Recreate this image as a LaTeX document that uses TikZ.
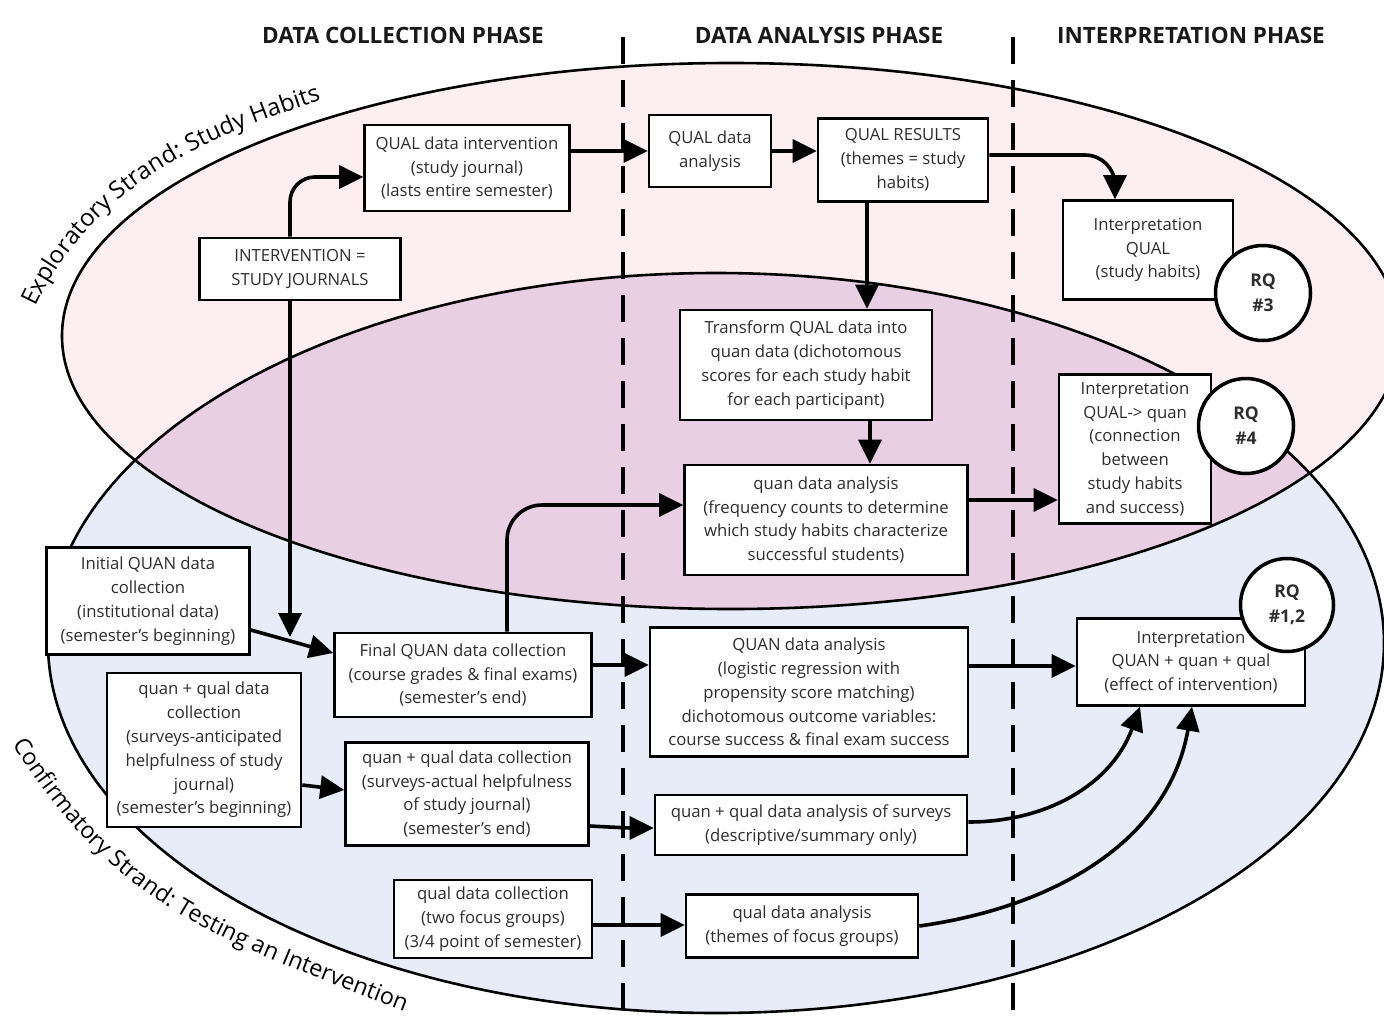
\documentclass[tikz,border=0pt]{standalone}
\usepackage{fontspec}
\setmainfont{Open Sans}
\usetikzlibrary{arrows.meta,decorations.text}
\definecolor{pinkf}{RGB}{253,239,241}
\definecolor{bluef}{RGB}{232,236,248}
\definecolor{purpf}{RGB}{232,207,227}
\definecolor{txt}{RGB}{45,45,45}
\begin{document}
\begin{tikzpicture}[x=1pt,y=1pt,
 bx/.style={draw=black, line width=2.6pt, fill=white, align=center, inner sep=0pt, text=txt, font=\fontsize{16.7}{23.8}\selectfont},
 rq/.style={circle, draw=black, line width=3.5pt, fill=white, inner sep=0pt, align=center, minimum size=95pt, text=txt, font=\bfseries\fontsize{17.5}{25}\selectfont},
 arr/.style={line width=3.6pt, -{Triangle[length=24pt,width=23pt]}},
 phase/.style={font=\bfseries\fontsize{22.5}{24}\selectfont, text=black!90},
 dsh/.style={line width=4.5pt, dash pattern=on 27pt off 16pt},
 ell/.style={line width=2.6pt}
]
\useasboundingbox (0,0) rectangle (1384,-1020);
% ellipse fills
\fill[bluef] (716,-643) ellipse [x radius=668, y radius=370];
\fill[pinkf] (731,-336) ellipse [x radius=669, y radius=273];
\begin{scope}
\clip (731,-336) ellipse [x radius=669, y radius=273];
\fill[purpf] (716,-643) ellipse [x radius=668, y radius=370];
\end{scope}
\draw[ell] (716,-643) ellipse [x radius=668, y radius=370];
\draw[ell] (731,-336) ellipse [x radius=669, y radius=273];
% phase separators
\draw[dsh] (623,-37) -- (623,-1020);
\draw[dsh] (1013,-37) -- (1013,-1020);
% strand labels
\path[decorate, decoration={text along path, text={|\fontsize{24}{24}\selectfont|Exploratory Strand: Study Habits}}]
  (36,-307) .. controls (91,-190) and (198,-139) .. (322,-100) -- (400,-80);
\path[decorate, decoration={text along path, text={|\fontsize{23.3}{24}\selectfont|Confirmatory Strand: Testing an Intervention}}]
  (13,-744) .. controls (118,-912) and (222,-940) .. (405,-1012) -- (480,-1036);
% headers
\node[phase] (h1) at (403,-35) {DATA COLLECTION PHASE};
\node[phase] (h2) at (819,-35) {DATA ANALYSIS PHASE};
\node[phase] (h3) at (1191,-35) {INTERPRETATION PHASE};
% boxes
\node[bx, minimum width=205pt, minimum height=86pt] (qi) at (467,-168) {QUAL data intervention\\(study journal)\\(lasts entire semester)};
\node[bx, minimum width=201pt, minimum height=62pt] (int) at (300,-269) {INTERVENTION =\\STUDY JOURNALS};
\node[bx, minimum width=122pt, minimum height=72pt] (qa) at (710,-151) {QUAL data\\analysis};
\node[bx, minimum width=170pt, minimum height=83pt] (qr) at (903,-160) {QUAL RESULTS\\(themes = study\\habits)};
\node[bx, minimum width=170pt, minimum height=99pt] (iq) at (1148,-250) {Interpretation\\QUAL\\(study habits)};
\node[bx, minimum width=252pt, minimum height=110pt] (tr) at (806,-365) {Transform QUAL data into\\quan data (dichotomous\\scores for each study habit\\for each participant)};
\node[bx, minimum width=283pt, minimum height=110pt] (qd) at (826,-520) {quan data analysis\\(frequency counts to determine\\which study habits characterize\\successful students)};
\node[bx, minimum width=152pt, minimum height=149pt] (iqq) at (1135,-449) {Interpretation\\QUAL-> quan\\(connection\\between\\study habits\\and success)};
\node[bx, minimum width=203pt, minimum height=107pt] (ini) at (148,-601) {Initial QUAN data\\collection\\(institutional data)\\(semester’s beginning)};
\node[bx, minimum width=257pt, minimum height=84pt] (fq) at (463,-675) {Final QUAN data collection\\(course grades \& final exams)\\(semester’s end)};
\node[bx, minimum width=318pt, minimum height=129pt] (qan) at (809,-692) {QUAN data analysis\\(logistic regression with\\propensity score matching)\\dichotomous outcome variables:\\course success \& final exam success};
\node[bx, minimum width=228pt, minimum height=87pt] (ia) at (1191,-662) {Interpretation\\QUAN + quan + qual\\(effect of intervention)};
\node[bx, minimum width=194pt, minimum height=154pt] (qq1) at (204,-750) {quan + qual data\\collection\\(surveys-anticipated\\helpfulness of study\\journal)\\(semester’s beginning)};
\node[bx, minimum width=243pt, minimum height=103pt] (qq2) at (467,-794) {quan + qual data collection\\(surveys-actual helpfulness\\of study journal)\\(semester’s end)};
\node[bx, minimum width=312pt, minimum height=60pt] (qs) at (811,-825) {quan + qual data analysis of surveys\\(descriptive/summary only)};
\node[bx, minimum width=198pt, minimum height=78pt] (fg) at (493,-919) {qual data collection\\(two focus groups)\\(3/4 point of semester)};
\node[bx, minimum width=232pt, minimum height=63pt] (qda) at (802,-926) {qual data analysis\\(themes of focus groups)};
% research question circles
\node[rq] (rq3) at (1263,-293) {RQ\\\#3};
\node[rq] (rq4) at (1246,-426) {RQ\\\#4};
\node[rq, minimum size=93pt] (rq12) at (1287,-605) {RQ\\\#1,2};
% connectors
\coordinate (a1) at ([xshift=-10pt]int.north);
\coordinate (a2) at ([yshift=-9pt]qi.west);
\draw[arr, rounded corners=25pt] (a1) |- (a2);
\coordinate (b1) at ([xshift=-10pt]int.south);
\coordinate (fqin) at (290,-637);
\draw[arr] (b1) -- (fqin);
\draw[arr] ([yshift=-29pt]ini.east) -- ([yshift=22pt]fq.west);
\draw[arr] (qi.east |- qa.west) -- (qa.west);
\draw[arr] (qa.east) -- (qa.east -| qr.west);
\coordinate (f1) at ([yshift=5pt]qr.east);
\coordinate (f2) at ([xshift=-33pt]iq.north);
\draw[arr, rounded corners=30pt] (f1) -| (f2);
\coordinate (g1) at ([xshift=-36pt]qr.south);
\draw[arr] (g1) -- (g1 |- tr.north);
\coordinate (h1c) at ([xshift=64pt]tr.south);
\draw[arr] (h1c) -- (h1c |- qd.north);
\coordinate (i1) at ([xshift=44pt]fq.north);
\coordinate (i2) at ([yshift=15pt]qd.west);
\draw[arr, rounded corners=35pt] (i1) |- (i2);
\coordinate (j1) at ([yshift=20pt]qd.east);
\draw[arr] (j1) -- (j1 -| iqq.west);
\coordinate (k1) at ([yshift=10pt]fq.east);
\draw[arr] (k1) -- (k1 -| qan.west);
\coordinate (l1) at ([yshift=26pt]qan.east);
\draw[arr] (l1) -- (l1 -| ia.west);
\draw[arr] ([yshift=-35pt]qq1.east) -- ([yshift=4pt]qq2.west);
\draw[arr] ([yshift=-32pt]qq2.east) to[out=-3,in=180] ([yshift=-3pt]qs.west);
\draw[arr] ([yshift=3pt]qs.east) to[out=0,in=-110] ([xshift=-51pt]ia.south);
\draw[arr] (qda.east) to[out=8,in=-100] ([xshift=1pt]ia.south);
\coordinate (q1) at ([yshift=-6pt]fg.east);
\draw[arr] (q1) -- (q1 -| qda.west);
\end{tikzpicture}
\end{document}
